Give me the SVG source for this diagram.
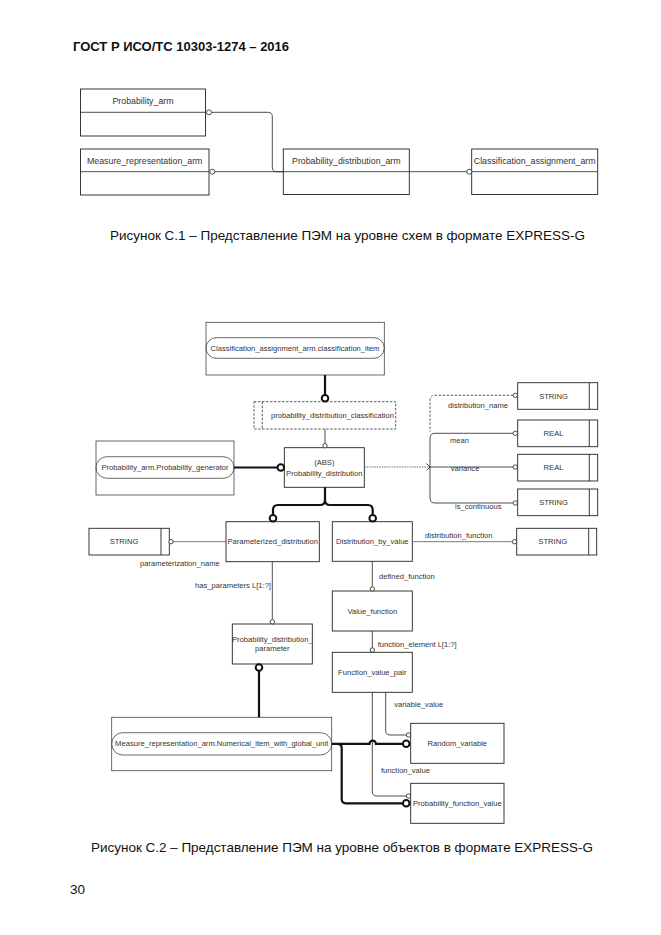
<svg xmlns="http://www.w3.org/2000/svg" width="661" height="935" viewBox="0 0 661 935">
<style>
.bg{fill:#fff}
.box{fill:none;stroke:#222;stroke-width:0.9}
.obox{fill:none;stroke:#444;stroke-width:0.8}
.dbox{fill:none;stroke:#333;stroke-width:0.8;stroke-dasharray:2.5,1.5}
.t{font-family:'Liberation Sans',Arial,sans-serif;font-size:7.6px;fill:#333}
.t9{font-family:'Liberation Sans',Arial,sans-serif;font-size:8.8px;fill:#333}
.m{text-anchor:middle}
.ln{fill:none;stroke:#222;stroke-width:0.8}
.lt{fill:none;stroke:#555;stroke-width:0.8}
.ld{fill:none;stroke:#333;stroke-width:0.8;stroke-dasharray:2.5,1.5}
.lp{fill:none;stroke:#444;stroke-width:0.8;stroke-dasharray:1.5,1}
.thk{fill:none;stroke:#111;stroke-width:2.2}
.c{fill:#fff;stroke:#222;stroke-width:0.8}
.ct{fill:#fff;stroke:#111;stroke-width:2}
.cap{font-family:'Liberation Sans',Arial,sans-serif;font-size:13.5px;fill:#111}
</style>
<rect class="bg" x="0" y="0" width="661" height="935"/>

<text x="73" y="51" font-family="'Liberation Sans',Arial,sans-serif" font-size="13" font-weight="bold" fill="#111">ГОСТ Р ИСО/ТС 10303-1274 – 2016</text>

<!-- Figure C.1 -->
<g id="f1-probability-arm">
<rect class="box" x="80.5" y="89" width="125" height="47"/>
<line class="ln" x1="80.5" y1="112.3" x2="205.5" y2="112.3"/>
<text class="t9 m" x="143" y="104">Probability_arm</text>
</g>
<g id="f1-measure-representation-arm">
<rect class="box" x="80.5" y="149" width="128.5" height="46"/>
<line class="ln" x1="80.5" y1="171.7" x2="209" y2="171.7"/>
<text class="t9 m" x="144.7" y="163.5">Measure_representation_arm</text>
</g>
<g id="f1-probability-distribution-arm">
<rect class="box" x="283.3" y="149" width="126" height="45.5"/>
<line class="ln" x1="283.3" y1="171.7" x2="409.3" y2="171.7"/>
<text class="t9 m" x="346.3" y="163.5">Probability_distribution_arm</text>
</g>
<g id="f1-classification-assignment-arm">
<rect class="box" x="471.7" y="149" width="126" height="45.5"/>
<line class="ln" x1="471.7" y1="171.7" x2="597.7" y2="171.7"/>
<text class="t9 m" x="534.7" y="163.5">Classification_assignment_arm</text>
</g>
<g id="f1-connectors">
<path class="ln" d="M211.5,112.3 H268 Q272.3,112.3 272.3,116.5 V167.5 Q272.3,171.7 276.5,171.7 H283.3"/>
<path class="ln" d="M214.8,171.7 H283.3"/>
<path class="ln" d="M409.3,171.7 H466.8"/>
<circle class="c" cx="209" cy="112.3" r="2.5"/>
<circle class="c" cx="212.3" cy="171.7" r="2.5"/>
<circle class="c" cx="469.3" cy="171.7" r="2.5"/>
</g>

<text class="cap" x="110" y="240" textLength="475" lengthAdjust="spacing">Рисунок С.1 – Представление ПЭМ на уровне схем в формате EXPRESS-G</text>

<!-- Figure C.2 -->
<g id="classification-item">
<rect class="obox" x="206" y="322.3" width="178.3" height="52.7"/>
<rect class="obox" x="206" y="337.7" width="178.3" height="20.6" rx="10.3"/>
<text class="t m" x="295" y="350.7">Classification_assignment_arm.classification_item</text>
</g>
<g id="probability-distribution-classification">
<rect class="dbox" x="254" y="401.7" width="141.7" height="27.3"/>
<line class="dbox" x1="262.3" y1="401.7" x2="262.3" y2="429"/>
<text class="t m" x="332.5" y="418">probability_distribution_classification</text>
</g>
<g id="probability-generator">
<rect class="obox" x="96" y="441" width="138" height="54"/>
<rect class="obox" x="96" y="456.7" width="138" height="21.6" rx="10.8"/>
<text class="t m" x="165" y="470">Probability_arm.Probability_generator</text>
</g>
<g id="probability-distribution">
<rect class="box" x="284.3" y="447.7" width="80" height="39.6"/>
<text class="t m" x="324.3" y="464.5">(ABS)</text>
<text class="t m" x="324.3" y="476">Probability_distribution</text>
</g>
<g id="string-distribution-name">
<rect class="box" x="517.7" y="382.7" width="80" height="26.6"/>
<line class="box" x1="589.3" y1="382.7" x2="589.3" y2="409.3"/>
<text class="t m" x="553.5" y="398.6">STRING</text>
</g>
<g id="real-mean">
<rect class="box" x="517.7" y="420" width="80" height="26.7"/>
<line class="box" x1="589.3" y1="420" x2="589.3" y2="446.7"/>
<text class="t m" x="553.5" y="436">REAL</text>
</g>
<g id="real-variance">
<rect class="box" x="517.7" y="454.3" width="80" height="26.7"/>
<line class="box" x1="589.3" y1="454.3" x2="589.3" y2="481"/>
<text class="t m" x="553.5" y="470.3">REAL</text>
</g>
<g id="string-is-continuous">
<rect class="box" x="517.7" y="489" width="80" height="26.7"/>
<line class="box" x1="589.3" y1="489" x2="589.3" y2="515.7"/>
<text class="t m" x="553.5" y="505">STRING</text>
</g>
<g id="string-distribution-function">
<rect class="box" x="516.7" y="528.3" width="80" height="26.7"/>
<line class="box" x1="588.7" y1="528.3" x2="588.7" y2="555"/>
<text class="t m" x="552.7" y="544.4">STRING</text>
</g>
<g id="string-parameterization-name">
<rect class="box" x="89" y="528.3" width="80.3" height="26.7"/>
<line class="box" x1="161" y1="528.3" x2="161" y2="555"/>
<text class="t m" x="124" y="544.4">STRING</text>
</g>
<g id="parameterized-distribution">
<rect class="box" x="226" y="521.7" width="93.3" height="40"/>
<text class="t m" x="272.7" y="544.4">Parameterized_distribution</text>
</g>
<g id="distribution-by-value">
<rect class="box" x="332.3" y="521.7" width="80" height="39.6"/>
<text class="t m" x="372.3" y="544.4">Distribution_by_value</text>
</g>
<g id="value-function">
<rect class="box" x="332.3" y="591" width="80" height="40"/>
<text class="t m" x="372.3" y="613.7">Value_function</text>
</g>
<g id="function-value-pair">
<rect class="box" x="332.3" y="652.3" width="80" height="40"/>
<text class="t m" x="372.3" y="675">Function_value_pair</text>
</g>
<g id="probability-distribution-parameter">
<rect class="box" x="232.3" y="624" width="80" height="40"/>
<text class="t m" x="272.3" y="641.7">Probability_distribution_</text>
<text class="t m" x="272.3" y="651">parameter</text>
</g>
<g id="numerical-item">
<rect class="obox" x="111.7" y="717.3" width="220" height="53.4"/>
<rect class="obox" x="111.7" y="732.7" width="220" height="22.3" rx="11.1"/>
<text class="t m" x="221.7" y="746.3">Measure_representation_arm.Numerical_item_with_global_unit</text>
</g>
<g id="random-variable">
<rect class="box" x="410.7" y="723.3" width="93.3" height="40"/>
<text class="t m" x="457.3" y="746.3">Random_variable</text>
</g>
<g id="probability-function-value">
<rect class="box" x="410.7" y="783.3" width="93.3" height="40"/>
<text class="t m" x="457.3" y="806.3">Probability_function_value</text>
</g>

<g id="connectors">
<path class="thk" d="M325,375 V394.5"/>
<circle class="ct" cx="325" cy="398.2" r="3.3"/>
<path class="thk" d="M234,467.5 H277"/>
<circle class="ct" cx="280.8" cy="467.5" r="3.3"/>
<path class="thk" d="M325,487.3 V500 Q325,505 320,505 H278 Q273,505 273,510 V514.5"/>
<path class="thk" d="M325,500 Q325,505 330,505 H368 Q372.7,505 372.7,510 V514.5"/>
<circle class="ct" cx="273" cy="518.2" r="3.3"/>
<circle class="ct" cx="372.7" cy="518.2" r="3.3"/>
<path class="thk" d="M259,671 V717.3"/>
<circle class="ct" cx="259" cy="667.5" r="3.3"/>
<path class="thk" d="M331.7,743.8 H337.5 Q341.7,743.8 341.7,748 V799 Q341.7,803.3 346,803.3 H402.6"/>
<path class="thk" d="M337.5,743.8 H369.5 A3.2,3.2 0 0 1 375.9,743.8 H402.6"/>
<circle class="ct" cx="406.2" cy="743.8" r="3.3"/>
<circle class="ct" cx="406.2" cy="803.3" r="3.3"/>
<path class="ln" d="M325,429 V443.5"/>
<circle class="c" cx="325" cy="445.7" r="2.2"/>
<path class="lp" d="M364.3,467 H430"/>
<path class="ld" d="M513,395.3 H435 Q430,395.3 430,400.3 V431.5"/>
<path class="ln" d="M513,433.3 H435 Q430,433.3 430,438.3 V498 Q430,503 435,503 H513"/>
<path class="ln" d="M430,467 H513"/>
<path class="ln" d="M426.5,463.5 L430,467 L426.5,470.5"/>
<circle class="c" cx="515.3" cy="395.3" r="2.2"/>
<circle class="c" cx="515.3" cy="433.3" r="2.2"/>
<circle class="c" cx="515.3" cy="467" r="2.2"/>
<circle class="c" cx="515.3" cy="503" r="2.2"/>
<path class="lt" d="M412.3,541.7 H512.3"/>
<circle class="c" cx="514.5" cy="541.7" r="2.2"/>
<path class="lt" d="M226,541.7 H173"/>
<circle class="c" cx="171" cy="541.7" r="2.2"/>
<path class="ln" d="M272.3,561.7 V619.5"/>
<circle class="c" cx="272.3" cy="621.8" r="2.2"/>
<path class="ln" d="M372.3,561.3 V586.8"/>
<circle class="c" cx="372.3" cy="589" r="2.2"/>
<path class="ln" d="M372.3,631 V647.8"/>
<circle class="c" cx="372.3" cy="650" r="2.2"/>
<path class="ln" d="M385.7,692.3 V730.5 Q385.7,735 390,735 H406.3"/>
<circle class="c" cx="408.5" cy="735" r="2.2"/>
<path class="ln" d="M372.3,692.3 V791.5 Q372.3,796 376.6,796 H406.3"/>
<circle class="c" cx="408.5" cy="796" r="2.2"/>
</g>

<g id="labels">
<text class="t" x="448" y="408.2">distribution_name</text>
<text class="t" x="450" y="443.3">mean</text>
<text class="t" x="450.7" y="471.3">variance</text>
<text class="t" x="455" y="509.2">is_continuous</text>
<text class="t" x="425" y="538.2">distribution_function</text>
<text class="t" x="140" y="566">parameterization_name</text>
<text class="t" x="195" y="587.6">has_parameters L[1:?]</text>
<text class="t" x="379" y="579.3">defined_function</text>
<text class="t" x="377.7" y="646.6">function_element L[1:?]</text>
<text class="t" x="394.3" y="706.6">variable_value</text>
<text class="t" x="381" y="772.6">function_value</text>
</g>

<text class="cap" x="91" y="852" textLength="502" lengthAdjust="spacing">Рисунок С.2 – Представление ПЭМ на уровне объектов в формате EXPRESS-G</text>
<text class="cap" x="70" y="894">30</text>
</svg>
